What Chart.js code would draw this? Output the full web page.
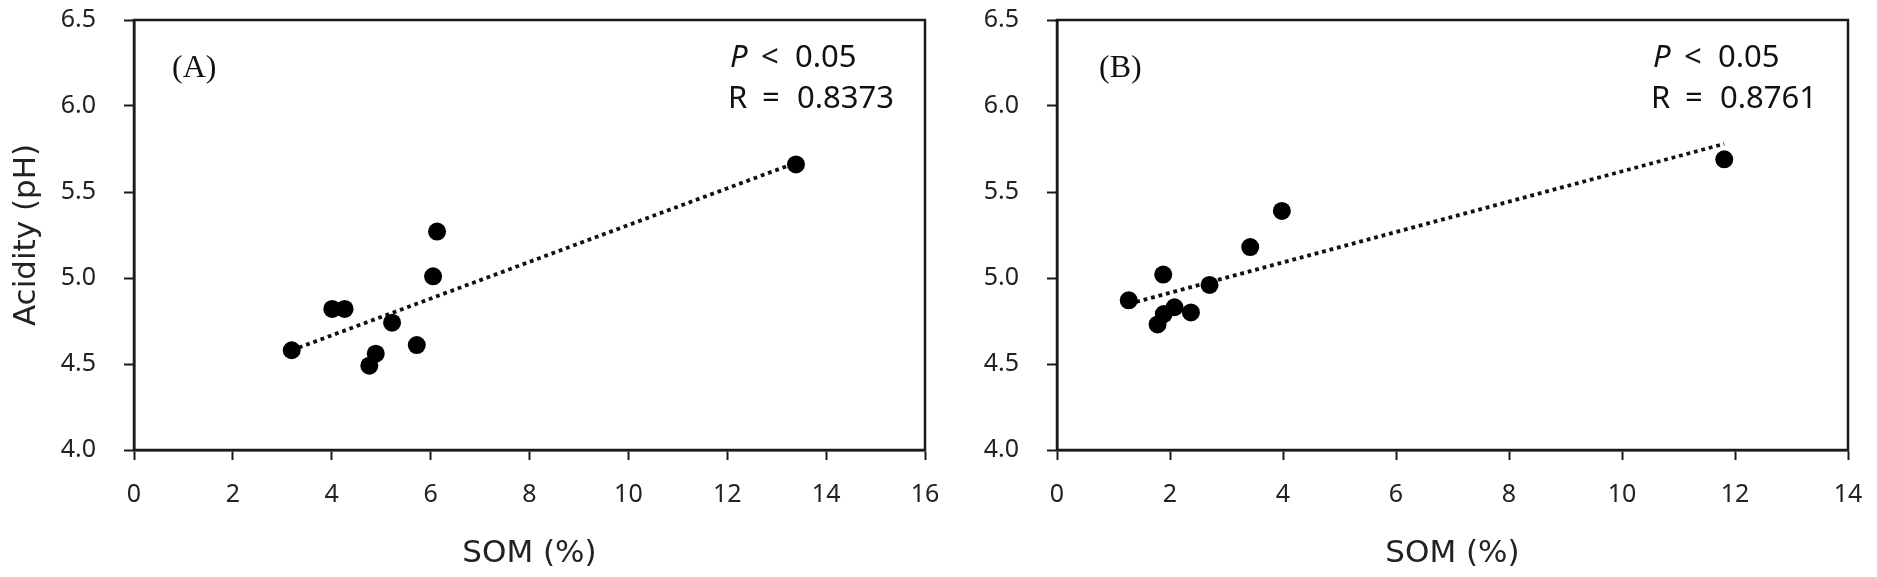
<!DOCTYPE html>
<html>
<head>
<meta charset="utf-8">
<title>SOM vs pH</title>
<script src="https://cdn.jsdelivr.net/npm/chart.js@4.4.1/dist/chart.umd.min.js"></script>
<style>
  html, body { margin: 0; padding: 0; background: #fff; }
  #wrap { position: relative; width: 1877px; height: 577px; overflow: hidden; }
  #wrap canvas { position: absolute; top: 0; }
</style>
</head>
<body>
<div id="wrap">
  <canvas id="chartA" width="940" height="577" style="left:0"></canvas>
  <canvas id="chartB" width="937" height="577" style="left:940px"></canvas>
</div>
<script>
/* ── DATA ─────────────────────────────────────── */
// panel A
const somA = [3.19, 4.01, 4.26, 4.76, 4.89, 5.22, 5.72, 6.05, 6.13, 13.39];
const phA  = [4.58, 4.82, 4.82, 4.49, 4.56, 4.74, 4.61, 5.01, 5.27, 5.66];
const trendSomA = [3.19, 13.39];
const trendPhA  = [4.58, 5.67];
const somTicksA = [0, 2, 4, 6, 8, 10, 12, 14, 16];

// panel B
const somB = [1.27, 1.78, 1.88, 1.89, 2.08, 2.37, 2.70, 3.42, 3.98, 11.81];
const phB  = [4.87, 4.73, 5.02, 4.79, 4.83, 4.80, 4.96, 5.18, 5.39, 5.69];
const trendSomB = [1.27, 11.81];
const trendPhB  = [4.85, 5.78];
const somTicksB = [0, 2, 4, 6, 8, 10, 12, 14];

const phTicks = [4.0, 4.5, 5.0, 5.5, 6.0, 6.5];
const pText  = '0.05';

/* ── HELPERS ──────────────────────────────────── */
const pairs = (xs, ys) => xs.map((x, i) => ({ x, y: ys[i] }));
const INK = '#1a1a1a';
const TXT = '#222';

// frame round the plot + panel letter + stats text
const panelText = {
  id: 'panelText',
  beforeDatasetsDraw(chart, args, o) {
    const { ctx, chartArea: a } = chart;
    ctx.save();
    ctx.strokeStyle = INK;
    ctx.lineWidth = 2.5;
    ctx.strokeRect(a.left, a.top, a.right - a.left, a.bottom - a.top);
    ctx.restore();
  },
  afterDatasetsDraw(chart, args, o) {
    const { ctx, chartArea: a } = chart;
    ctx.save();
    ctx.fillStyle = '#111';
    ctx.textBaseline = 'alphabetic';
    ctx.textAlign = 'left';
    ctx.font = '32px "Liberation Serif"';
    ctx.fillText(o.label, a.left + o.labelDx, a.top + 57);

    const x = a.right - 197;
    ctx.font = 'italic 31px "Noto Sans"';
    ctx.fillText('P', x + 2, a.top + 47);
    ctx.font = '31px "Noto Sans"';
    ctx.fillText('<', x + 33, a.top + 47);
    ctx.fillText(pText, x + 67, a.top + 47);
    ctx.fillText('R', x, a.top + 88);
    ctx.fillText('=', x + 34, a.top + 88);
    ctx.fillText(o.r, x + 69, a.top + 88);
    ctx.restore();
  }
};

const tickFont = { family: 'Noto Sans', size: 25 };
const titleFont = { family: 'DejaVu Sans', size: 31 };

function makeChart(id, o) {
  return new Chart(document.getElementById(id), {
    type: 'scatter',
    data: {
      datasets: [
        {
          label: 'samples',
          data: pairs(o.som, o.ph),
          pointRadius: 9,
          pointHoverRadius: 9,
          pointBackgroundColor: '#000',
          pointBorderWidth: 0,
          showLine: false,
          order: 1
        },
        {
          label: 'trend',
          data: pairs(o.trendSom, o.trendPh),
          showLine: true,
          pointRadius: 0,
          borderColor: '#111',
          borderWidth: 3.8,
          borderDash: [3.8, 3.9],
          borderCapStyle: 'butt',
          fill: false,
          order: 2
        }
      ]
    },
    options: {
      responsive: false,
      devicePixelRatio: 1,
      animation: false,
      layout: { padding: { left: 0, right: o.padRight, top: 20, bottom: 0 } },
      plugins: {
        legend: { display: false },
        tooltip: { enabled: false },
        panelText: { label: o.label, labelDx: o.labelDx, r: o.r }
      },
      scales: {
        x: {
          type: 'linear',
          min: 0,
          max: o.xTicks[o.xTicks.length - 1],
          afterBuildTicks: s => { s.ticks = o.xTicks.map(v => ({ value: v })); },
          afterFit: s => { s.height = 127; s.paddingLeft = 0; s.paddingRight = 0; },
          ticks: { font: tickFont, color: TXT, padding: 20, maxRotation: 0, autoSkip: false },
          grid: { drawOnChartArea: false, tickLength: 10, tickWidth: 2, tickColor: INK },
          border: { color: INK, width: 2.5 },
          title: { display: true, text: 'SOM (%)', font: titleFont, color: TXT, padding: { bottom: 4 } }
        },
        y: {
          min: 4,
          max: 6.5,
          afterBuildTicks: s => { s.ticks = phTicks.map(v => ({ value: v })); },
          afterFit: s => { s.width = o.yWidth; s.paddingTop = 0; s.paddingBottom = 0; },
          ticks: { font: tickFont, color: TXT, padding: 28, callback: v => Number(v).toFixed(1) },
          grid: { drawOnChartArea: false, tickLength: 10, tickWidth: 2, tickColor: INK },
          border: { color: INK, width: 2.5 },
          title: { display: o.yTitle, text: 'Acidity (pH)', font: titleFont, color: TXT, padding: { top: 8 } }
        }
      }
    },
    plugins: [panelText]
  });
}

// ── PANEL A ─────────────────────────────────────
makeChart('chartA', {
  som: somA, ph: phA, trendSom: trendSomA, trendPh: trendPhA,
  xTicks: somTicksA, label: '(A)', labelDx: 38, r: '0.8373',
  yWidth: 134, padRight: 15, yTitle: true
});

// ── PANEL B ─────────────────────────────────────
makeChart('chartB', {
  som: somB, ph: phB, trendSom: trendSomB, trendPh: trendPhB,
  xTicks: somTicksB, label: '(B)', labelDx: 42, r: '0.8761',
  yWidth: 117, padRight: 29, yTitle: false
});
</script>
</body>
</html>
